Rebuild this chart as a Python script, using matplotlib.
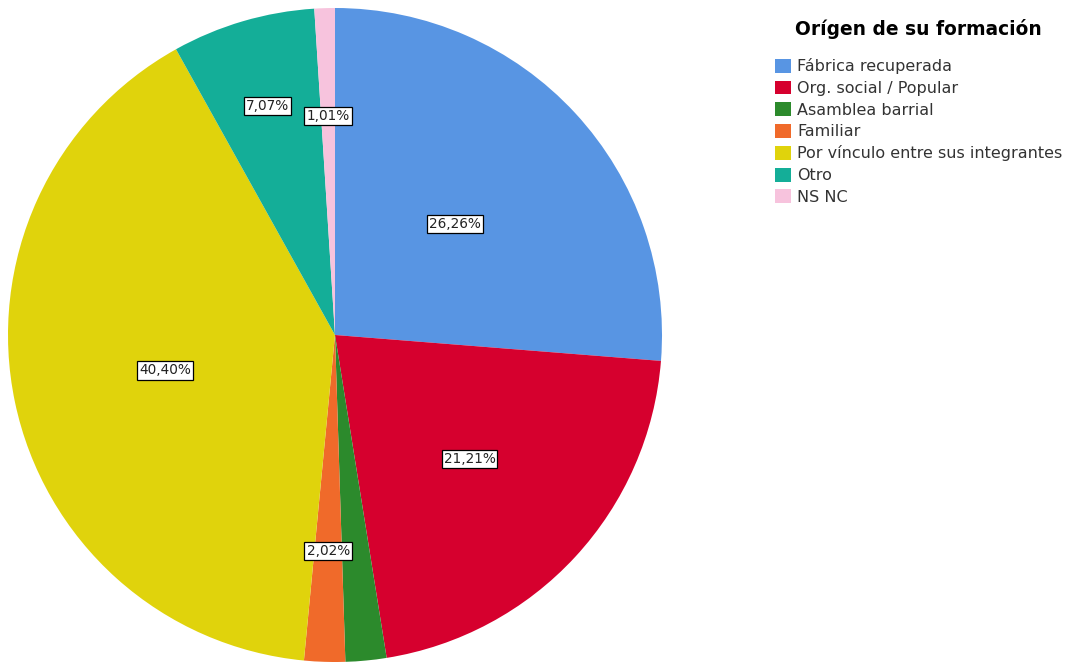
import numpy as np
import matplotlib
matplotlib.use("Agg")
import matplotlib.pyplot as plt
from matplotlib.patches import Patch

# data (n = 99)
categories = ["Fábrica recuperada", "Org. social / Popular", "Asamblea barrial",
              "Familiar", "Por vínculo entre sus integrantes", "Otro", "NS NC"]
shares = [26.26, 21.21, 2.02, 2.02, 40.40, 7.07, 1.01]
shown = [True, True, False, True, True, True, True]

# styling
colors = ["#5895e3", "#d6002e", "#2c8a2c", "#f06a2a", "#e0d30c", "#14ae98", "#f7c3dd"]
label_dist = [0.50, 0.56, 0.66, 0.66, 0.53, 0.73, 0.67]

plt.rcParams["font.family"] = ["DejaVu Sans"]

fig = plt.figure(figsize=(10.72, 6.62), dpi=100)
ax = fig.add_axes([8 / 1072, 0, 654 / 1072, 654 / 662])

wedges, _ = ax.pie(shares, colors=colors, startangle=90, counterclock=False,
                   radius=1.0, wedgeprops=dict(linewidth=0))
ax.set_xlim(-1, 1)
ax.set_ylim(-1, 1)
ax.set_aspect("equal")
ax.axis("off")

for w, v, show, d in zip(wedges, shares, shown, label_dist):
    if not show:
        continue
    ang = np.deg2rad((w.theta1 + w.theta2) / 2)
    txt = f"{v:.2f}%".replace(".", ",")
    ax.text(d * np.cos(ang), d * np.sin(ang), txt, ha="center", va="center",
            fontsize=9.8, color="#222222",
            bbox=dict(boxstyle="square,pad=0.15", fc="white", ec="black", lw=0.9))

handles = [Patch(facecolor=c, edgecolor="none") for c in colors]
leg = fig.legend(handles, categories, loc="upper left",
                 bbox_to_anchor=(775 / 1072, 1 - 19 / 662),
                 frameon=False, fontsize=11.5, handlelength=1.0, handleheight=0.95,
                 handletextpad=0.4, labelspacing=0.39, borderaxespad=0,
                 borderpad=0, title="Orígen de su formación",
                 title_fontproperties={"weight": "bold", "size": 13.4})
leg._legend_box.sep = 14
for t in leg.get_texts():
    t.set_color("#333333")

fig.savefig("out.png", dpi=100)
